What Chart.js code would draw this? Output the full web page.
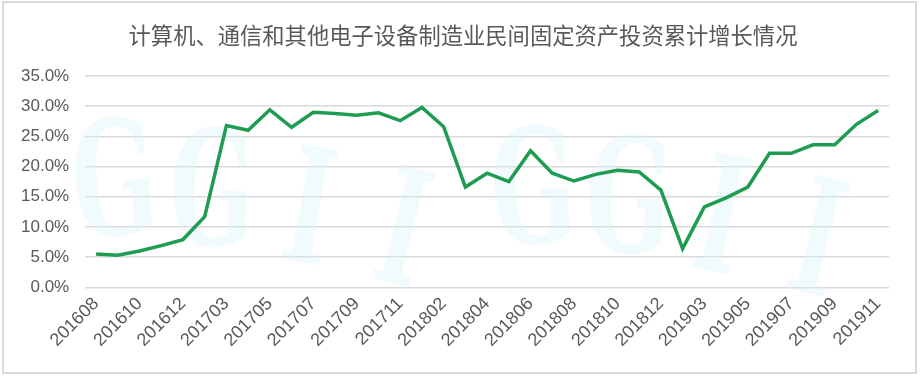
<!DOCTYPE html>
<html>
<head>
<meta charset="utf-8">
<script src="https://cdn.jsdelivr.net/npm/chart.js@4"></script>
<style>
  html, body { margin: 0; padding: 0; background: #fff; }
  #wrap { width: 924px; height: 378px; }
</style>
</head>
<body>
<div id="wrap"><canvas id="chart" width="924" height="378"></canvas></div>
<script>
// 月份（1月与2月合并发布，所以没有01）
const months = [
  "201608", "201609", "201610", "201611", "201612",
  "201702", "201703", "201704", "201705", "201706", "201707", "201708", "201709", "201710", "201711", "201712",
  "201802", "201803", "201804", "201805", "201806", "201807", "201808", "201809", "201810", "201811", "201812",
  "201902", "201903", "201904", "201905", "201906", "201907", "201908", "201909", "201910", "201911"
];
// 累计增长 %
const growth = [
  5.5, 5.3, 6.0, 6.9, 7.9,
  11.7, 26.8, 26.0, 29.4, 26.5, 29.0, 28.8, 28.5, 28.9, 27.6, 29.8,
  26.6, 16.6, 18.9, 17.5, 22.6, 18.9, 17.6, 18.7, 19.4, 19.1, 16.1,
  6.4, 13.3, 14.8, 16.6, 22.2, 22.2, 23.6, 23.6, 27.0, 29.3
];
const yTicks = [0, 5, 10, 15, 20, 25, 30, 35];
const titleText = "计算机、通信和其他电子设备制造业民间固定资产投资累计增长情况";

// 背景水印、标题、外框
const decor = {
  id: "decor",
  beforeDatasetsDraw(chart) {
    const ctx = chart.ctx;
    ctx.save();
    ctx.fillStyle = "rgba(215, 242, 250, 0.35)";
    ctx.font = "bold 160px 'DejaVu Serif'";
    ctx.textBaseline = "alphabetic";
    const marks = [[118, 235, -4], [210, 245, 2], [300, 262, 10], [390, 282, 14],
                   [535, 243, -2], [625, 252, 4], [710, 270, 12], [805, 292, 14]];
    const letters = ["G", "G", "I", "I", "G", "G", "I", "I"];
    marks.forEach((m, i) => {
      ctx.save();
      ctx.translate(m[0], m[1]);
      ctx.rotate(m[2] * Math.PI / 180);
      ctx.scale(0.62, 1);
      ctx.textAlign = "center";
      ctx.fillText(letters[i], 0, 0);
      ctx.restore();
    });
    ctx.restore();
  },
  afterDraw(chart) {
    const ctx = chart.ctx;
    ctx.save();
    ctx.fillStyle = "#595959";
    ctx.font = "22.3px 'Noto Sans CJK SC'";
    ctx.textAlign = "center";
    ctx.textBaseline = "middle";
    ctx.fillText(titleText, 463, 36);
    ctx.strokeStyle = "#d9d9d9";
    ctx.lineWidth = 2;
    ctx.strokeRect(3, 2, 913, 371);
    ctx.restore();
  }
};

new Chart(document.getElementById("chart"), {
  type: "line",
  data: {
    labels: months,
    datasets: [{
      data: growth,
      borderColor: "#1f9c52",
      borderWidth: 3.5,
      pointRadius: 0,
      tension: 0,
      fill: false
    }]
  },
  options: {
    responsive: false,
    animation: false,
    layout: { padding: { left: 5, right: 35, top: 76, bottom: 21 } },
    plugins: {
      legend: { display: false },
      tooltip: { enabled: false },
      title: { display: false }
    },
    scales: {
      x: {
        offset: true,
        grid: { display: false, drawTicks: false },
        border: { display: false },
        ticks: {
          autoSkip: false,
          maxRotation: 45,
          minRotation: 45,
          padding: 6,
          color: "#595959",
          font: { family: "'Liberation Sans'", size: 18 },
          callback: function (v, i) { return i % 2 === 0 ? months[i] : ""; }
        }
      },
      y: {
        min: 0,
        max: 35,
        afterBuildTicks: axis => { axis.ticks = yTicks.map(v => ({ value: v })); },
        grid: { color: "#d9d9d9", lineWidth: 1.5, drawTicks: false },
        border: { display: false },
        ticks: {
          padding: 16,
          color: "#595959",
          font: { family: "'Liberation Sans'", size: 17 },
          callback: v => v.toFixed(1) + "%"
        }
      }
    }
  },
  plugins: [decor]
});
</script>
</body>
</html>
